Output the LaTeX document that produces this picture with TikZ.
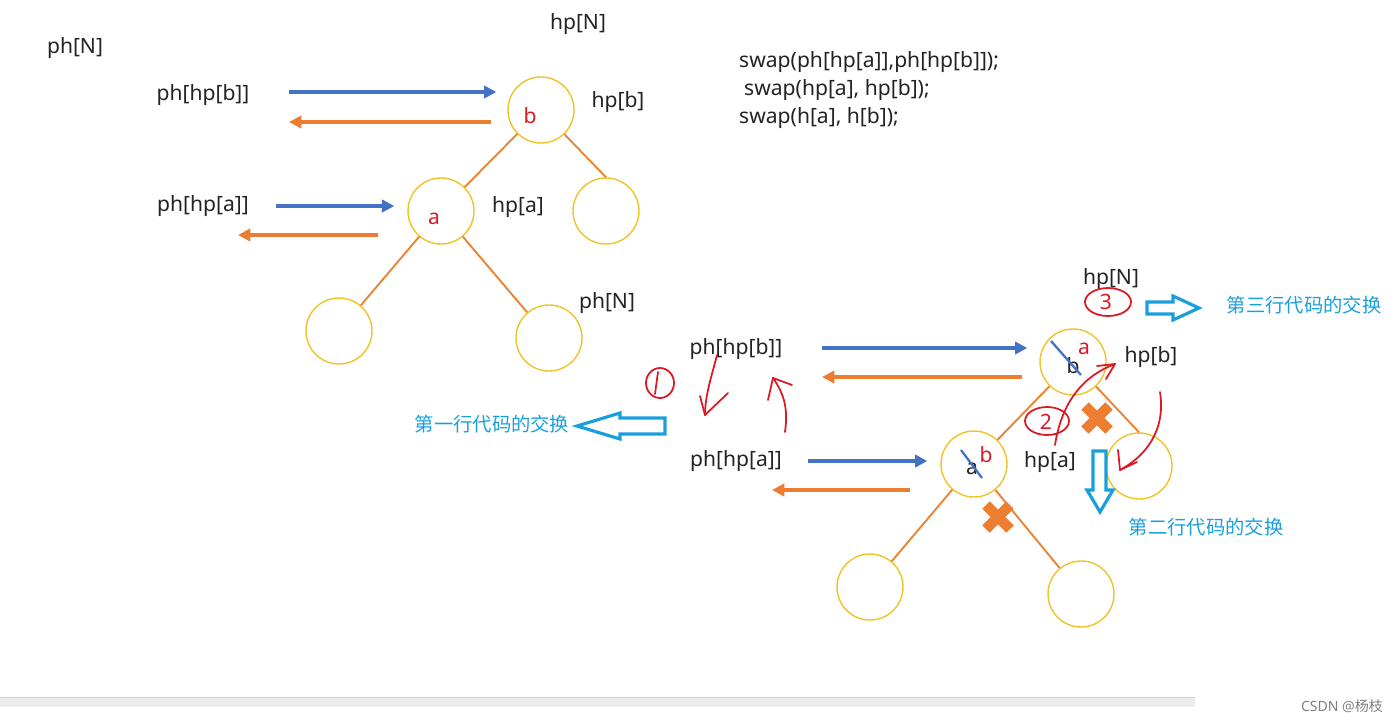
\documentclass[tikz,border=0pt]{standalone}
\usepackage{fontspec}
\setmainfont{Noto Sans}
\newfontfamily\cjk{Noto Sans CJK SC}
\usetikzlibrary{arrows.meta}

\definecolor{ringyellow}{RGB}{240,195,40}
\definecolor{linkorange}{RGB}{230,135,55}
\definecolor{arrowblue}{RGB}{68,114,196}
\definecolor{arroworange}{RGB}{237,125,49}
\definecolor{penred}{RGB}{220,25,35}
\definecolor{notecyan}{RGB}{25,160,220}
\definecolor{inkgray}{RGB}{35,35,35}

\tikzset{
  heapnode/.style={circle, draw=ringyellow, line width=0.8pt, minimum size=13.2mm, inner sep=0pt},
  branch/.style={draw=linkorange, line width=1.1pt},
  bluearrow/.style={draw=arrowblue, line width=2pt, -{Triangle[length=7pt,width=7pt]}},
  orangearrow/.style={draw=arroworange, line width=2pt, -{Triangle[length=7pt,width=7pt]}},
  pen/.style={draw=penred, line width=1pt, line cap=round, line join=round},
  strike/.style={draw=arrowblue, line width=1.3pt},
  redletter/.style={text=penred, inner sep=0pt},
  hollow/.style={draw=notecyan, line width=1.8pt, line join=miter},
  note/.style={text=notecyan, font=\cjk\fontsize{11}{13}\selectfont},
  cross/.style={draw=arroworange, line width=6pt},
}

\begin{document}
\begin{tikzpicture}[x=0.2mm, y=-0.2mm, font=\fontsize{12}{14}\selectfont, text=inkgray]
\useasboundingbox (0,0) rectangle (1400,719);

%the heap before the swap
\node[heapnode] (b) at (541,110) {};
\node[heapnode] (a) at (441,211) {};
\node[heapnode] (br) at (606,211) {};
\node[heapnode] (al) at (339,331) {};
\node[heapnode] (ar) at (549,338) {};
\draw[branch] (b) -- (a);
\draw[branch] (b) -- (br.north);
\draw[branch] (a) -- (al);
\draw[branch] (a) -- (ar);
\node[redletter] (bkey) at (530,116) {b};
\node[redletter] (akey) at (434,219) {a};

\node (phN) at (75,48) {ph[N]};
\node (hpN) at (578,24) {hp[N]};
\node (phb) at (203,95) {ph[hp[b]]};
\node (hpb) at (618,102) {hp[b]};
\node (pha) at (203,206) {ph[hp[a]]};
\node (hpa) at (518,207) {hp[a]};
\node (phN2) at (607,303) {ph[N]};

\draw[bluearrow] ([shift={(86,-3)}]phb.center) -- ([shift={(-11,-18)}]b.west);
\draw[orangearrow] ([shift={(-16,12)}]b.west) -- ([shift={(86,27)}]phb.center);
\draw[bluearrow] ([shift={(73,0)}]pha.center) -- ([shift={(-13,-5)}]a.west);
\draw[orangearrow] ([shift={(-29,24)}]a.west) -- ([shift={(35,29)}]pha.center);

%the code
\node[anchor=west] (code1) at (733,62) {swap(ph[hp[a]],ph[hp[b]]);};
\node[anchor=west] (code2) at (738,90) {swap(hp[a], hp[b]);};
\node[anchor=west] (code3) at (733,118) {swap(h[a], h[b]);};

%the heap after the swap
\node[heapnode] (B) at (1073,362) {};
\node[heapnode] (A) at (974,464) {};
\node[heapnode] (Br) at (1139,466) {};
\node[heapnode] (Al) at (870,587) {};
\node[heapnode] (Ar) at (1081,594) {};
\draw[branch] (B) -- (A);
\draw[branch] (B) -- (Br.north);
\draw[branch] (A) -- (Al);
\draw[branch] (A) -- (Ar);

\node (Bold) at (1073,366) {b};
\node[redletter] (Bnew) at (1084,349) {a};
\draw[strike] ([shift={(-22,-25)}]Bold.center) -- ([shift={(8,9)}]Bold.center);
\node (Aold) at (972,469) {a};
\node[redletter] (Anew) at (986,455) {b};
\draw[strike] ([shift={(-11,-19)}]Aold.center) -- ([shift={(10,9)}]Aold.center);

\node (hpN3) at (1111,279) {hp[N]};
\node (hpb2) at (1151,357) {hp[b]};
\node (phb2) at (736,349) {ph[hp[b]]};
\node (pha2) at (736,461) {ph[hp[a]]};
\node (hpa2) at (1050,462) {hp[a]};

\draw[bluearrow] ([shift={(86,-1)}]phb2.center) -- ([shift={(-12,-14)}]B.west);
\draw[orangearrow] ([shift={(-17,15)}]B.west) -- ([shift={(86,28)}]phb2.center);
\draw[bluearrow] ([shift={(72,0)}]pha2.center) -- ([shift={(-13,-3)}]A.west);
\draw[orangearrow] ([shift={(-30,26)}]A.west) -- ([shift={(36,29)}]pha2.center);

%the crosses
\draw[cross] (1085,406) -- (1109,430);
\draw[cross] (1085,430) -- (1109,406);
\draw[cross] (986,505) -- (1010,529);
\draw[cross] (986,529) -- (1010,505);

%the notes
\node[note] (line1) at (492,424) {第一行代码的交换};
\node[note] (line2) at (1206,527) {第二行代码的交换};
\node[note] (line3) at (1304,305) {第三行代码的交换};
\draw[hollow] (665,418) -- (620,418) -- (620,413) -- (577,426) -- (620,439) -- (620,434) -- (665,434) -- cycle;
\draw[hollow] (1093,451) -- (1093,490) -- (1087,490) -- (1100,512) -- (1113,490) -- (1106,490) -- (1106,451) -- cycle;
\draw[hollow] (1147,302) -- (1173,302) -- (1173,296) -- (1199,308) -- (1173,320) -- (1173,314) -- (1147,314) -- cycle;

%the pen marks
\draw[pen] (660,383) ellipse (14 and 15);
\draw[pen] (658,372) -- (655,394);
\draw[pen] (717,355) .. controls (712,375) and (705,395) .. (705,415);
\draw[pen] (700,396) -- (705,415) -- (728,393);
\draw[pen] (785,432) .. controls (788,410) and (785,395) .. (773,378);
\draw[pen] (768,400) -- (773,378) -- (792,385);

\draw[pen] (1047,421) ellipse (22 and 14);
\node[redletter] (two) at (1046,422) {2};
\draw[pen] (1055,445) .. controls (1062,400) and (1085,375) .. (1115,364);
\draw[pen] (1097,366) -- (1115,364) -- (1106,379);
\draw[pen] (1160,392) .. controls (1166,430) and (1146,456) .. (1120,470);
\draw[pen] (1118,450) -- (1120,470) -- (1137,462);

\draw[pen] (1108,302) ellipse (23 and 14);
\node[redletter] (three) at (1106,302) {3};

%the page foot
\fill[gray!15] (0,697) rectangle (1195,707);
\draw[gray!35] (0,697) -- (1195,697);
\node[text=gray, font=\fontsize{8}{9}\selectfont] (mark) at (1342,706) {CSDN @{\cjk 杨枝}};
\end{tikzpicture}
\end{document}
